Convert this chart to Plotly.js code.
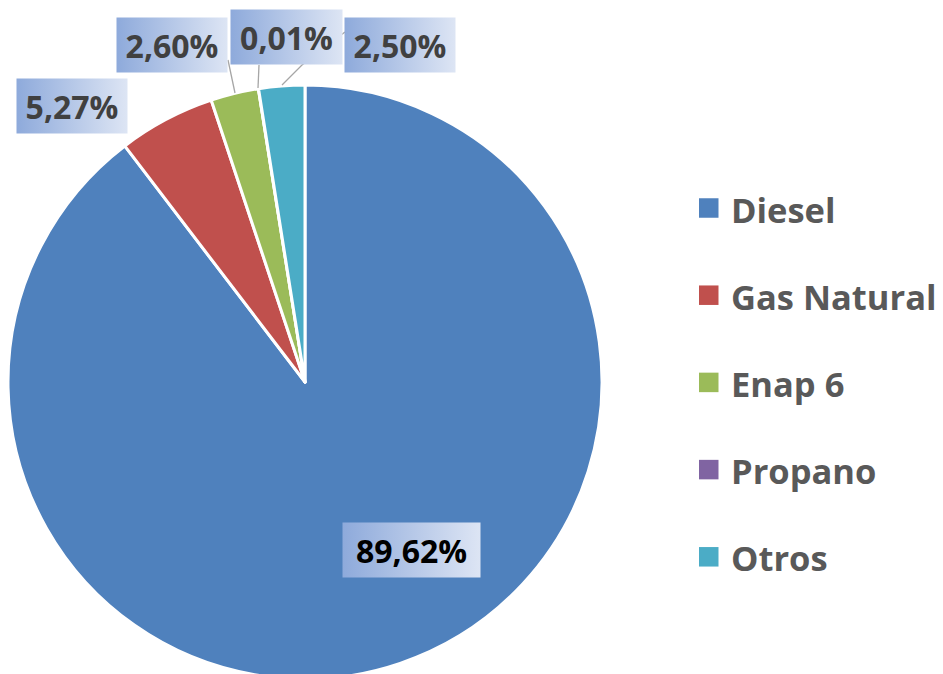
<!DOCTYPE html>
<html>
<head>
<meta charset="utf-8">
<script src="https://cdn.plot.ly/plotly-3.0.1.min.js"></script>
<style>
html,body{margin:0;padding:0;overflow:hidden;background:#fff;}
#chart{width:943px;height:690px;}
</style>
</head>
<body>
<div id="chart"></div>
<script>
// Data
var labels = ["Diesel", "Gas Natural", "Enap 6", "Propano", "Otros"];
var values = [89.62, 5.27, 2.60, 0.01, 2.50];
var colors = ["#4f81bd", "#c0504d", "#9bbb59", "#8064a2", "#4bacc6"];

// Layout helpers (pixel -> paper)
var W = 943, H = 690;
function px(x){ return x / W; }
function py(y){ return 1 - y / H; }

// Pie geometry
var cx = 305, cy = 382, R = 297;

// Data label boxes (centre positions, sizes, text colour)
var labelBoxes = [
  {cx: 411.5, cy: 550, w: 137, h: 54, color: "#000000"},
  {cx: 72,   cy: 106, w: 110, h: 54, color: "#404040"},
  {cx: 172,  cy: 45,  w: 110, h: 54, color: "#404040"},
  {cx: 286.5,cy: 37,  w: 111, h: 54, color: "#404040"},
  {cx: 400,  cy: 45,  w: 110, h: 54, color: "#404040"}
];

function fmt(v){ return v.toFixed(2).replace(".", ",") + "%"; }

var annotations = [];
var shapes = [];

// leader lines
var leaders = [
  [[228,60],[235,93]],
  [[259,65],[258,88]],
  [[282,85],[302,65],[345,32]]
];
leaders.forEach(function(pts){
  var path = "M" + pts.map(function(p){ return px(p[0]) + "," + py(p[1]); }).join(" L");
  shapes.push({type:"path", xref:"paper", yref:"paper", path: path,
    line:{color:"#a6a6a6", width:1.3}, layer:"above"});
});

values.forEach(function(v, i){
  var b = labelBoxes[i];
  annotations.push({
    xref:"paper", yref:"paper", x: px(b.cx), y: py(b.cy),
    xanchor:"center", yanchor:"middle",
    text: "<b>" + fmt(v) + "</b>", showarrow:false,
    width: b.w, height: b.h, borderpad: 0, align:"center", valign:"middle",
    bgcolor:"#b4c6e7",
    font:{family:"Open Sans, sans-serif", size:32, color:b.color}
  });
});

// custom legend
labels.forEach(function(l, i){
  var yc = 208 + i * 87.2;
  shapes.push({type:"rect", xref:"paper", yref:"paper",
    x0: px(699), x1: px(718.5), y0: py(yc - 9.75), y1: py(yc + 9.75),
    fillcolor: colors[i], line:{width:0}});
  annotations.push({xref:"paper", yref:"paper", x: px(729), y: py(yc + 1),
    xanchor:"left", yanchor:"middle", showarrow:false,
    text:"<b>" + l + "</b>",
    font:{family:"Open Sans, sans-serif", size:34.5, color:"#595959"}});
});

var trace = {
  type:"pie",
  labels: labels,
  values: values,
  sort:false,
  direction:"clockwise",
  rotation:0,
  textinfo:"none",
  hoverinfo:"label+percent",
  marker:{colors: colors, line:{color:"#ffffff", width:3}},
  domain:{x:[px(cx - R), px(cx + R)], y:[py(cy + R), py(cy - R)]},
  showlegend:false
};

var layout = {
  width: W, height: H,
  margin:{l:0,r:0,t:0,b:0},
  paper_bgcolor:"#ffffff",
  showlegend:false,
  annotations: annotations,
  shapes: shapes
};

Plotly.newPlot("chart", [trace], layout, {displayModeBar:false, staticPlot:true}).then(function(gd){
  var svg = gd.querySelector("svg.main-svg");
  var ns = "http://www.w3.org/2000/svg";
  var defs = svg.querySelector("defs") || svg.insertBefore(document.createElementNS(ns,"defs"), svg.firstChild);
  var grad = document.createElementNS(ns, "linearGradient");
  grad.setAttribute("id", "lblgrad");
  grad.setAttribute("x1","0"); grad.setAttribute("y1","0");
  grad.setAttribute("x2","1"); grad.setAttribute("y2","0");
  [["0","#8eaadb"],["1","#dde5f4"]].forEach(function(s){
    var st = document.createElementNS(ns, "stop");
    st.setAttribute("offset", s[0]); st.setAttribute("stop-color", s[1]);
    grad.appendChild(st);
  });
  defs.appendChild(grad);
  var anns = gd.querySelectorAll(".annotation");
  for (var i = 0; i < values.length && i < anns.length; i++){
    var r = anns[i].querySelector("rect.bg");
    if (r) r.style.fill = "url(#lblgrad)";
  }
});
</script>
</body>
</html>
